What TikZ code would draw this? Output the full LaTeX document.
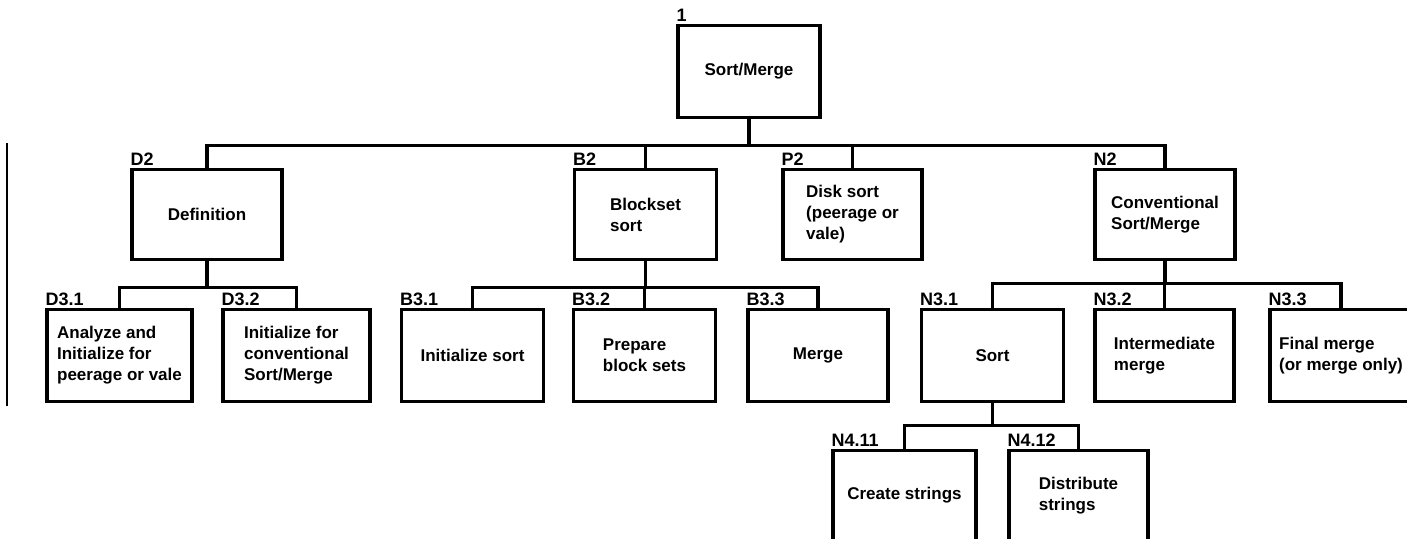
\documentclass[tikz,border=0pt]{standalone}
\usepackage{fontspec}
\setmainfont{Liberation Sans}
\usetikzlibrary{positioning}

\begin{document}
\begin{tikzpicture}[
  x=0.5pt, y=-0.5pt,
  box/.style={draw, line width=1.8pt, align=center, minimum width=71pt, minimum height=45pt, inner sep=2pt, font=\bfseries\fontsize{8.5}{10.5}\selectfont},
  lbox/.style={box, align=left},
  tag/.style={anchor=south west, inner xsep=0pt, inner ysep=1pt, font=\bfseries\fontsize{9}{10}\selectfont},
  link/.style={line width=1.6pt}
]
\useasboundingbox (0,0) rectangle (1407,539);

% top level
\node[box, minimum height=46pt] (root) at (749,71.5) {Sort/Merge};

% second level
\node[box, minimum width=75pt] (def) at (207,214.5) {Definition};
\node[lbox] (blk) at (645.5,214.5) {Blockset\\sort};
\node[lbox, minimum width=69.5pt] (disk) at (852.5,214.5) {Disk sort\\(peerage or\\vale)};
\node[lbox, minimum width=70pt] (conv) at (1165,214.5) {Conventional\\Sort/Merge};

% third level
\node[lbox, minimum width=72.5pt, minimum height=46pt] (anlz) at (119.5,355.5) {Analyze and\\Initialize for\\peerage or vale};
\node[lbox, minimum width=73.5pt, minimum height=46pt] (initc) at (296.5,355.5) {Initialize for\\conventional\\Sort/Merge};
\node[box, minimum height=46pt] (inits) at (472.5,355.5) {Initialize sort};
\node[lbox, minimum height=46pt] (prep) at (644.5,355.5) {Prepare\\block sets};
\node[box, minimum width=70pt, minimum height=46pt] (mrg) at (818,355.5) {Merge};
\node[box, minimum height=46pt] (srt) at (992.5,355.5) {Sort};
\node[lbox, minimum width=69.5pt, minimum height=46pt] (imed) at (1164.5,355.5) {Intermediate\\merge};
\node[lbox, minimum height=46pt] (fin) at (1341,355.5) {Final merge\\(or merge only)};

% fourth level
\node[box, minimum width=71.5pt] (crs) at (904.5,495.5) {Create strings};
\node[lbox, minimum width=69.5pt] (dst) at (1078.5,495.5) {Distribute\\strings};

% reference numbers
\node[tag] (t1) at (root.north west) {1};
\node[tag] (td2) at (def.north west) {D2};
\node[tag] (tb2) at (blk.north west) {B2};
\node[tag] (tp2) at (disk.north west) {P2};
\node[tag] (tn2) at (conv.north west) {N2};
\node[tag] (td31) at (anlz.north west) {D3.1};
\node[tag] (td32) at (initc.north west) {D3.2};
\node[tag] (tb31) at (inits.north west) {B3.1};
\node[tag] (tb32) at (prep.north west) {B3.2};
\node[tag] (tb33) at (mrg.north west) {B3.3};
\node[tag] (tn31) at (srt.north west) {N3.1};
\node[tag] (tn32) at (imed.north west) {N3.2};
\node[tag] (tn33) at (fin.north west) {N3.3};
\node[tag] (tn411) at (crs.north west) {N4.11};
\node[tag] (tn412) at (dst.north west) {N4.12};

% tree lines
\draw[link] (root.south) -- ++(0,26) coordinate (bar1);
\foreach \c in {def,blk,disk,conv} \draw[link] (bar1) -| (\c.north);
\draw[link] (def.south) -- ++(0,26) coordinate (bard);
\foreach \c in {anlz,initc} \draw[link] (bard) -| (\c.north);
\draw[link] (blk.south) -- ++(0,26) coordinate (barb);
\foreach \c in {inits,prep,mrg} \draw[link] (barb) -| (\c.north);
\draw[link] (conv.south) -- ++(0,22) coordinate (barn);
\foreach \c in {srt,imed,fin} \draw[link] (barn) -| (\c.north);
\draw[link] (srt.south) -- ++(0,22) coordinate (bars);
\foreach \c in {crs,dst} \draw[link] (bars) -| (\c.north);

% margin bar
\draw[line width=1.4pt] (7,143) -- (7,406);
\end{tikzpicture}
\end{document}
